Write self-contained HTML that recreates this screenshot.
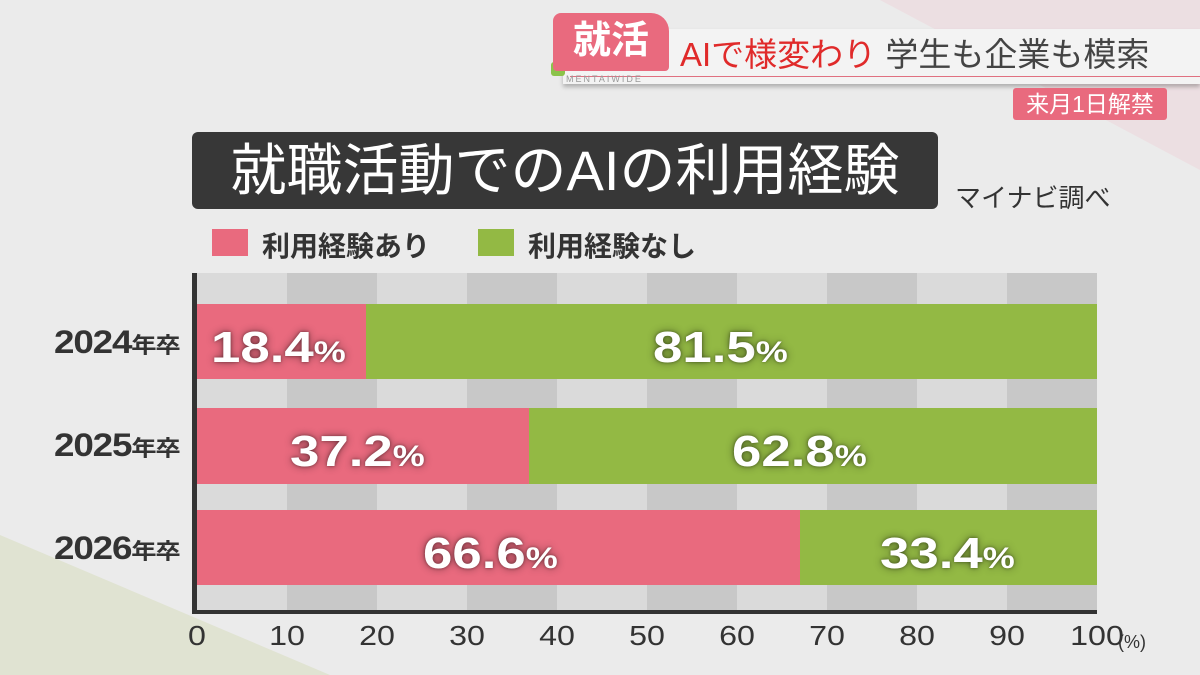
<!DOCTYPE html>
<html><head><meta charset="utf-8"><style>
*{margin:0;padding:0;box-sizing:border-box}
body{width:1200px;height:675px;overflow:hidden;background:#ebebeb;position:relative;font-family:"Liberation Sans","Noto Sans CJK JP",sans-serif;color:#333}
.a{position:absolute}
.v{color:#fff;font-size:44px;font-weight:bold;line-height:1;white-space:nowrap;text-shadow:0 0 8px rgba(0,0,0,.45),0 0 3px rgba(0,0,0,.4);transform:scaleX(1.2);transform-origin:left top}
.v small{font-size:30px}
.yl{font-size:32px;font-weight:bold;color:#333;transform:scaleX(1.15);transform-origin:left top;white-space:nowrap;letter-spacing:-1px}
.yl small{font-size:22px;font-weight:bold}
.xt{font-size:28px;color:#333;top:620px;width:80px;text-align:center;transform:scaleX(1.15)}
</style></head><body>
<svg class="a" style="left:0;top:0" width="1200" height="675">
<polygon points="880,0 1200,0 1200,170" fill="#ecdfe2"/>
<polygon points="0,535 330,675 0,675" fill="#e0e3d2"/>
</svg>
<div class="a" style="left:563px;top:29px;width:637px;height:55px;background:#f3f3f3;box-shadow:0 3px 4px rgba(0,0,0,.25)"></div>
<div class="a" style="left:570px;top:76px;width:630px;height:1px;background:#e07080"></div>
<div class="a" style="left:551px;top:62px;width:14px;height:14px;background:#8bc34a;border-radius:3px"></div>
<div class="a" style="left:553px;top:13px;width:116px;height:58px;background:#e96a7e;border-radius:8px 18px 4px 4px;color:#fff;font-size:38px;font-weight:bold;text-align:center;line-height:56px">就活</div>
<div class="a" style="left:566px;top:74px;font-size:9px;letter-spacing:2px;color:#999">MENTAIWIDE</div>
<div class="a" style="left:680px;top:32px;font-size:33px;line-height:46px;white-space:nowrap"><span style="color:#e02a2a">AIで様変わり</span> <span style="color:#444">学生も企業も模索</span></div>
<div class="a" style="left:1013px;top:88px;width:154px;height:32px;background:#e96a7e;border-radius:3px;color:#fff;font-size:23px;text-align:center;line-height:32px">来月1日解禁</div>
<div class="a" style="left:192px;top:132px;width:746px;height:77px;background:#373737;border-radius:6px;color:#fff;font-size:56px;text-align:center;line-height:77px;white-space:nowrap">就職活動でのAIの利用経験</div>
<div class="a" style="left:955px;top:178px;font-size:26px;color:#333">マイナビ調べ</div>
<div class="a" style="left:212px;top:229px;width:36px;height:27px;background:#e96a7e"></div>
<div class="a" style="left:262px;top:225px;font-size:28px;font-weight:bold">利用経験あり</div>
<div class="a" style="left:478px;top:229px;width:36px;height:27px;background:#93b944"></div>
<div class="a" style="left:528px;top:225px;font-size:28px;font-weight:bold">利用経験なし</div>
<svg class="a" style="left:0;top:0" width="1200" height="675">
<g>
<rect x="197" y="273" width="90" height="338" fill="#dadada"/>
<rect x="287" y="273" width="90" height="338" fill="#c8c8c8"/>
<rect x="377" y="273" width="90" height="338" fill="#dadada"/>
<rect x="467" y="273" width="90" height="338" fill="#c8c8c8"/>
<rect x="557" y="273" width="90" height="338" fill="#dadada"/>
<rect x="647" y="273" width="90" height="338" fill="#c8c8c8"/>
<rect x="737" y="273" width="90" height="338" fill="#dadada"/>
<rect x="827" y="273" width="90" height="338" fill="#c8c8c8"/>
<rect x="917" y="273" width="90" height="338" fill="#dadada"/>
<rect x="1007" y="273" width="90" height="338" fill="#c8c8c8"/>
</g>
<rect x="197" y="304" width="169" height="75" fill="#e96a7e"/>
<rect x="366" y="304" width="731" height="75" fill="#93b944"/>
<rect x="197" y="408" width="332" height="76" fill="#e96a7e"/>
<rect x="529" y="408" width="568" height="76" fill="#93b944"/>
<rect x="197" y="510" width="603" height="75" fill="#e96a7e"/>
<rect x="800" y="510" width="297" height="75" fill="#93b944"/>
<rect x="192" y="273" width="5" height="341" fill="#333"/>
<rect x="192" y="610" width="905" height="4" fill="#333"/>
</svg>
<div class="a yl" style="left:54px;top:324px">2024<small>年卒</small></div>
<div class="a yl" style="left:54px;top:427px">2025<small>年卒</small></div>
<div class="a yl" style="left:54px;top:530px">2026<small>年卒</small></div>
<div class="a v" style="left:211px;top:326px">18.4<small>%</small></div>
<div class="a v" style="left:653px;top:326px">81.5<small>%</small></div>
<div class="a v" style="left:290px;top:430px">37.2<small>%</small></div>
<div class="a v" style="left:732px;top:430px">62.8<small>%</small></div>
<div class="a v" style="left:423px;top:532px">66.6<small>%</small></div>
<div class="a v" style="left:880px;top:532px">33.4<small>%</small></div>
<div class="a xt" style="left:157px">0</div>
<div class="a xt" style="left:247px">10</div>
<div class="a xt" style="left:337px">20</div>
<div class="a xt" style="left:427px">30</div>
<div class="a xt" style="left:517px">40</div>
<div class="a xt" style="left:607px">50</div>
<div class="a xt" style="left:697px">60</div>
<div class="a xt" style="left:787px">70</div>
<div class="a xt" style="left:877px">80</div>
<div class="a xt" style="left:967px">90</div>
<div class="a xt" style="left:1057px">100</div>
<div class="a" style="left:1118px;top:632px;font-size:18px">(%)</div>
</body></html>
